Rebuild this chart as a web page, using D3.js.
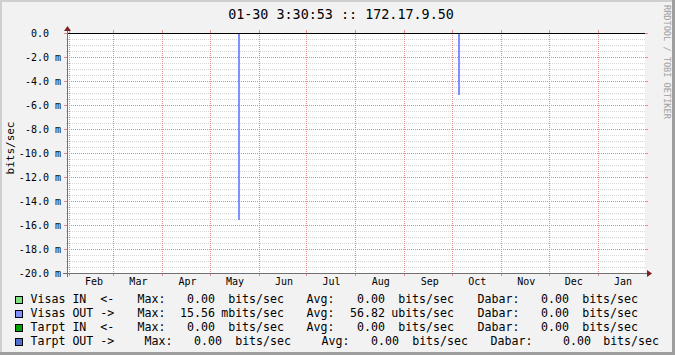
<!DOCTYPE html>
<html><head><meta charset="utf-8">
<script src="https://cdn.jsdelivr.net/npm/d3@7"></script>
<style>
html,body{margin:0;padding:0;background:#F2F2F2;overflow:hidden;}
svg{display:block;}
text{font-family:"DejaVu Sans Mono",monospace;white-space:pre;}
</style></head><body>
<svg id="chart" width="675" height="355"></svg>
<script>
// ---- data ----
const titleText = "01-30 3:30:53 :: 172.17.9.50";
const yAxisTitle = "bits/sec";
const watermark = "RRDTOOL / TOBI OETIKER";
const timeDomain = ["2010-01-30T22:00:00Z", "2011-01-30T22:00:00Z"];
const yDomain = [-20, 0];           // milli bits/sec
const yMajorStep = 2;
const yMinorStep = 0.5;
const hruleValue = 0;
const visasOutDates = ["2010-05-19", "2010-10-05"];
const visasOutValues = [-15.56, -5.17]; // milli bits/sec
const seriesNames = ["Visas IN  <-", "Visas OUT ->", "Tarpt IN  <-", "Tarpt OUT ->"];
const maxValues = ["0.00", "15.56", "0.00", "0.00"];
const maxUnits = ["bits/sec", "mbits/sec", "bits/sec", "bits/sec"];
const avgValues = ["0.00", "56.82", "0.00", "0.00"];
const avgUnits = ["bits/sec", "ubits/sec", "bits/sec", "bits/sec"];
const curValues = ["0.00", "0.00", "0.00", "0.00"];
const curUnits = ["bits/sec", "bits/sec", "bits/sec", "bits/sec"];
const seriesColors = ["#80E080", "#8090FF", "#00A000", "#5070D0"];

// ---- layout ----
const W = 675, H = 355;
const X0 = 67, X1 = 645, Y0 = 273, Y1 = 33;
const svg = d3.select("#chart");
const x = d3.scaleUtc().domain(timeDomain.map(d => new Date(d))).range([X0, X1]);
const y = d3.scaleLinear().domain(yDomain).range([Y0, Y1]);

// background & 3D frame
svg.append("rect").attr("width", W).attr("height", H).attr("fill", "#F2F2F2");
svg.append("rect").attr("x", 0).attr("y", 0).attr("width", W).attr("height", 2).attr("fill", "#CFCFCF");
svg.append("rect").attr("x", 0).attr("y", 0).attr("width", 2).attr("height", H).attr("fill", "#CFCFCF");
svg.append("rect").attr("x", 0).attr("y", H - 3).attr("width", W).attr("height", 3).attr("fill", "#9E9E9E");
svg.append("rect").attr("x", W - 3).attr("y", 0).attr("width", 3).attr("height", H).attr("fill", "#9E9E9E");

// canvas
svg.append("rect").attr("x", X0).attr("y", Y1).attr("width", X1 - X0).attr("height", Y0 - Y1).attr("fill", "#FFFFFF");

const g = svg.append("g").attr("shape-rendering", "crispEdges");
const minorCol = "rgb(212,212,212)";
const majorCol = "rgb(228,140,140)";

// minor horizontal grid
const minorTicks = d3.range(yDomain[0], yDomain[1] + 1e-9, yMinorStep).filter(v => Math.abs(v / yMajorStep - Math.round(v / yMajorStep)) > 1e-6);
g.selectAll("line.minor").data(minorTicks).join("line")
  .attr("x1", X0 - 1).attr("x2", X1 + 1)
  .attr("y1", d => y(d) + 0.5).attr("y2", d => y(d) + 0.5)
  .attr("stroke", minorCol).attr("stroke-dasharray", "1,1");

// major horizontal grid
const majorTicks = d3.range(yDomain[0], yDomain[1] + 1e-9, yMajorStep);
g.selectAll("line.major").data(majorTicks.filter(v => v !== yDomain[0])).join("line")
  .attr("x1", X0).attr("x2", X1)
  .attr("y1", d => y(d) + 0.5).attr("y2", d => y(d) + 0.5)
  .attr("stroke", majorCol).attr("stroke-dasharray", "1,1");
g.selectAll("line.mtickl").data(majorTicks).join("line")
  .attr("x1", X0 - 3).attr("x2", X0)
  .attr("y1", d => y(d) + 0.5).attr("y2", d => y(d) + 0.5)
  .attr("stroke", majorCol);
g.selectAll("line.mtickr").data(majorTicks).join("line")
  .attr("x1", X1).attr("x2", X1 + 3)
  .attr("y1", d => y(d) + 0.5).attr("y2", d => y(d) + 0.5)
  .attr("stroke", majorCol);

// vertical month grid
const months = x.ticks(d3.utcMonth.every(1));
g.selectAll("line.vgrid").data(months).join("line")
  .attr("x1", d => Math.round(x(d)) + 0.5).attr("x2", d => Math.round(x(d)) + 0.5)
  .attr("y1", Y1).attr("y2", Y0)
  .attr("stroke", majorCol).attr("stroke-dasharray", "1,1");
g.selectAll("line.vtickb").data(months).join("line")
  .attr("x1", d => Math.round(x(d)) + 0.5).attr("x2", d => Math.round(x(d)) + 0.5)
  .attr("y1", Y0).attr("y2", Y0 + 3)
  .attr("stroke", majorCol);
g.selectAll("line.vtickt").data(months).join("line")
  .attr("x1", d => Math.round(x(d)) + 0.5).attr("x2", d => Math.round(x(d)) + 0.5)
  .attr("y1", Y1 - 3).attr("y2", Y1)
  .attr("stroke", majorCol);

// spikes (Visas OUT, one-day samples)
const day = 86400000;
g.selectAll("rect.spike").data(visasOutDates.map((d, i) => ({t: new Date(d + "T00:00:00Z"), v: visasOutValues[i]}))).join("rect")
  .attr("x", d => x(d.t)).attr("width", d => x(new Date(+d.t + day)) - x(d.t))
  .attr("y", d => y(0)).attr("height", d => y(d.v) - y(0))
  .attr("fill", seriesColors[1]);

// hrule at 0
g.append("line").attr("x1", X0).attr("x2", X1).attr("y1", y(hruleValue) + 0.5).attr("y2", y(hruleValue) + 0.5)
  .attr("stroke", "#000");

// axes
svg.append("line").attr("x1", X0 - 4).attr("x2", X1 + 4).attr("y1", Y0 + 0.5).attr("y2", Y0 + 0.5)
  .attr("stroke", "#707070").attr("shape-rendering", "crispEdges");
svg.append("line").attr("x1", X0 + 0.5).attr("x2", X0 + 0.5).attr("y1", Y0 + 4).attr("y2", Y1 - 4)
  .attr("stroke", "#707070").attr("shape-rendering", "crispEdges");
const arrowCol = "#801F1F";
svg.append("path").attr("d", `M${X1 + 2},${Y0 - 3}L${X1 + 2},${Y0 + 4}L${X1 + 7},${Y0 + 0.5}Z`).attr("fill", arrowCol);
svg.append("path").attr("d", `M${X0 - 3},${Y1 - 2}L${X0 + 4},${Y1 - 2}L${X0 + 0.5},${Y1 - 7}Z`).attr("fill", arrowCol);

// y tick labels
svg.selectAll("text.ylab").data(majorTicks).join("text")
  .attr("x", 61).attr("y", d => y(d) + 4)
  .attr("text-anchor", "end").attr("font-size", "10px").attr("fill", "#000")
  .text(d => d === 0 ? "0.0  " : d.toFixed(1) + " m");

// month labels
const fmt = d3.utcFormat("%b");
svg.selectAll("text.xlab").data(months).join("text")
  .attr("x", d => x(new Date(+d + 16 * day))).attr("y", 285)
  .attr("text-anchor", "middle").attr("font-size", "10px").attr("fill", "#000")
  .text(d => fmt(d));

// title
svg.append("text").attr("x", 341).attr("y", 18.5).attr("text-anchor", "middle")
  .attr("font-size", "13.4px").attr("fill", "#000").text(titleText);

// y axis title
svg.append("text").attr("transform", "translate(14,148) rotate(-90)").attr("text-anchor", "middle")
  .attr("font-size", "11px").attr("fill", "#000").text(yAxisTitle);

// watermark
svg.append("text").attr("transform", "translate(664,5) rotate(90)").attr("text-anchor", "start")
  .attr("font-size", "8.6px").attr("fill", "#A0A0A0").text(watermark);

// legend
const rowCols = {
  normal: {max: 137.5, maxV: 215, maxU: 284, avg: 306.5, avgV: 385, avgU: 454, cur: 477.5, curV: 569, curU: 638},
  last:   {max: 144.5, maxV: 222, maxU: 291, avg: 321.5, avgV: 399, avgU: 468, cur: 490.5, curV: 591, curU: 659}
};
const leg = svg.append("g").attr("font-size", "11.6px").attr("fill", "#000");
seriesNames.forEach((name, i) => {
  const by = 303 + i * 14;
  const c = i === seriesNames.length - 1 ? rowCols.last : rowCols.normal;
  leg.append("rect").attr("x", 15.5).attr("y", by - 6.5).attr("width", 7).attr("height", 7)
    .attr("fill", seriesColors[i]).attr("stroke", "#000").attr("shape-rendering", "crispEdges");
  leg.append("text").attr("x", 30.5).attr("y", by).text(name);
  leg.append("text").attr("x", c.max).attr("y", by).text("Max:");
  leg.append("text").attr("x", c.maxV).attr("y", by).attr("text-anchor", "end").text(maxValues[i]);
  leg.append("text").attr("x", c.maxU).attr("y", by).attr("text-anchor", "end").text(maxUnits[i]);
  leg.append("text").attr("x", c.avg).attr("y", by).text("Avg:");
  leg.append("text").attr("x", c.avgV).attr("y", by).attr("text-anchor", "end").text(avgValues[i]);
  leg.append("text").attr("x", c.avgU).attr("y", by).attr("text-anchor", "end").text(avgUnits[i]);
  leg.append("text").attr("x", c.cur).attr("y", by).text("Dabar:");
  leg.append("text").attr("x", c.curV).attr("y", by).attr("text-anchor", "end").text(curValues[i]);
  leg.append("text").attr("x", c.curU).attr("y", by).attr("text-anchor", "end").text(curUnits[i]);
});
</script>
</body></html>
